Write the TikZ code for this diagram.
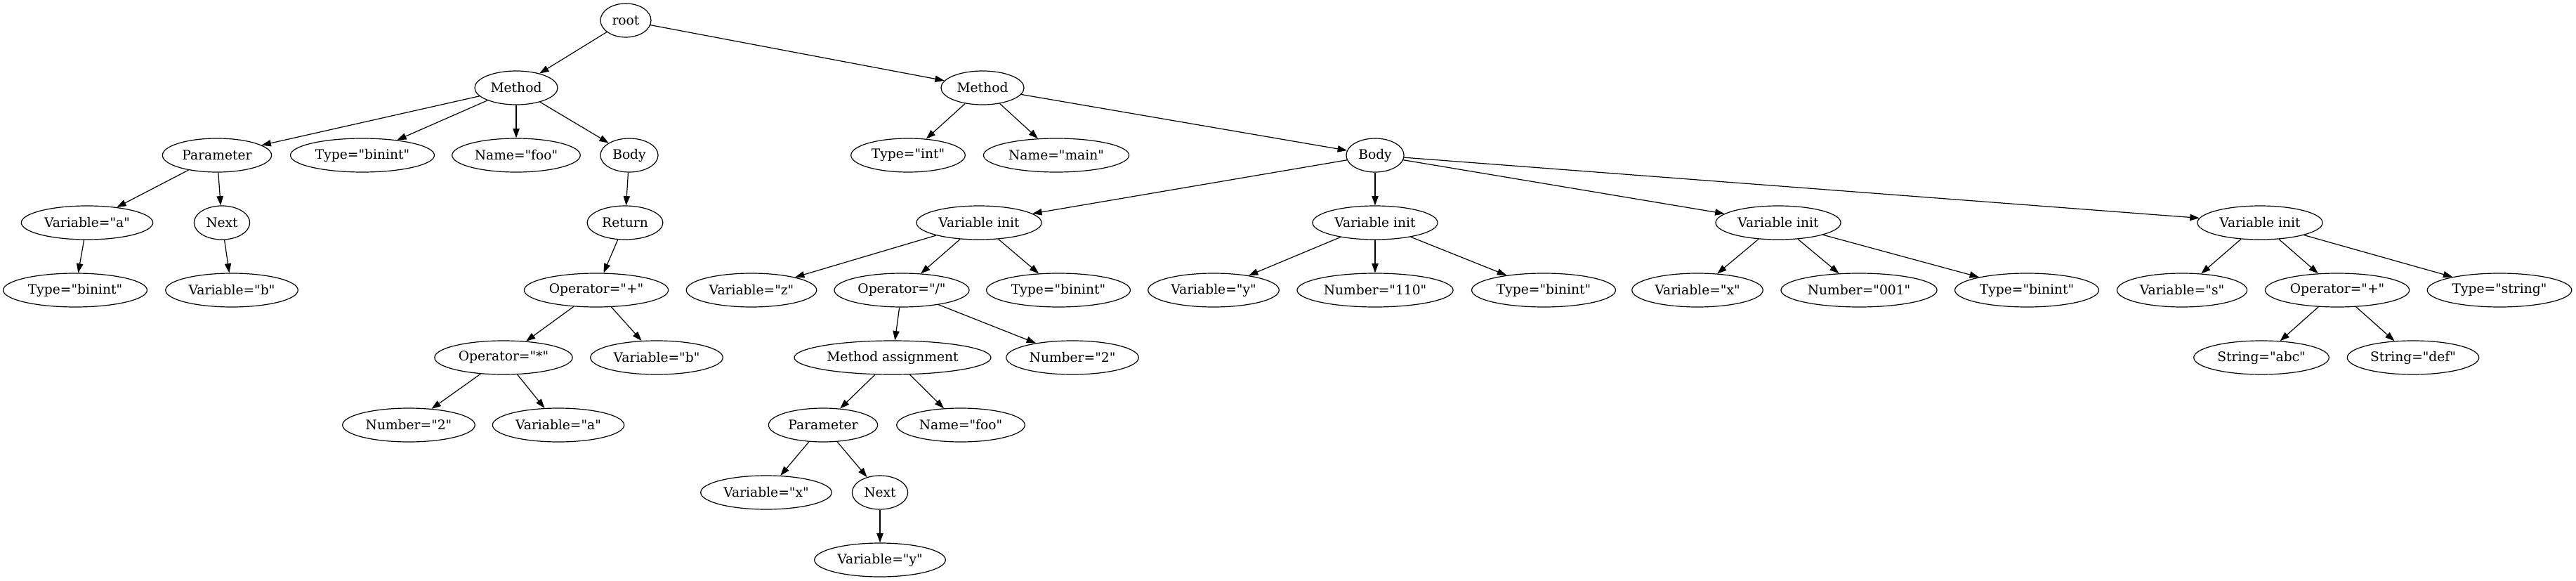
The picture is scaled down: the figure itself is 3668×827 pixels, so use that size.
\documentclass[tikz,border=0pt]{standalone}
\usepackage{fontspec}
\setmainfont{DejaVu Serif}[Ligatures=TeXOff]
\usepackage{tikz}
\usetikzlibrary{shapes.geometric,arrows.meta}
\tikzstyle{ast} = [draw=black, ellipse, line width=0.9pt, minimum width=54pt, minimum height=36pt, inner xsep=4pt, inner ysep=2pt, font={\fontsize{14}{16}\selectfont}]
\tikzstyle{edge} = [->, line width=0.9pt]

\begin{document}
\begin{tikzpicture}[x=0.75pt,y=-0.75pt,>={Triangle[length=10pt,width=7pt]}]
  \useasboundingbox (0,0) rectangle (3668,827);
  \node[ast](root) at (891,29){root};
  \node[ast](m1) at (735,125){Method};
  \node[ast](m2) at (1399,125){Method};
  \node[ast](par1) at (309,221){Parameter};
  \node[ast](type1) at (516,221){Type="binint"};
  \node[ast](name1) at (735,221){Name="foo"};
  \node[ast](body1) at (896,221){Body};
  \node[ast](type2) at (1293,221){Type="int"};
  \node[ast](name2) at (1504,221){Name="main"};
  \node[ast](body2) at (1958,221){Body};
  \node[ast](var1) at (124,317){Variable="a"};
  \node[ast](next1) at (316,317){Next};
  \node[ast](ret) at (890,317){Return};
  \node[ast](vi1) at (1394,317){Variable init};
  \node[ast](vi2) at (1958,317){Variable init};
  \node[ast](vi3) at (2532,317){Variable init};
  \node[ast](vi4) at (3218,317){Variable init};
  \node[ast](type3) at (107,413){Type="binint"};
  \node[ast](var2) at (330,413){Variable="b"};
  \node[ast](op1) at (849,413){Operator="+"};
  \node[ast](var3) at (1070,413){Variable="z"};
  \node[ast](op2) at (1284,413){Operator="/"};
  \node[ast](type4) at (1507,413){Type="binint"};
  \node[ast](var4) at (1728,413){Variable="y"};
  \node[ast](num1) at (1958,413){Number="110"};
  \node[ast](type5) at (2198,413){Type="binint"};
  \node[ast](var5) at (2417,413){Variable="x"};
  \node[ast](num2) at (2647,413){Number="001"};
  \node[ast](type6) at (2886,413){Type="binint"};
  \node[ast](var6) at (3107,413){Variable="s"};
  \node[ast](op3) at (3328,413){Operator="+"};
  \node[ast](type7) at (3559,413){Type="string"};
  \node[ast](op4) at (717,509){Operator="*"};
  \node[ast](var7) at (935,509){Variable="b"};
  \node[ast](ma) at (1271,509){Method assignment};
  \node[ast](num3) at (1527,509){Number="2"};
  \node[ast](str1) at (3220,509){String="abc"};
  \node[ast](str2) at (3436,509){String="def"};
  \node[ast](num4) at (582,605){Number="2"};
  \node[ast](var8) at (795,605){Variable="a"};
  \node[ast](par2) at (1172,605){Parameter};
  \node[ast](name3) at (1368,605){Name="foo"};
  \node[ast](var9) at (1091,701){Variable="x"};
  \node[ast](next2) at (1253,701){Next};
  \node[ast](var10) at (1253,797){Variable="y"};
  \draw[edge](root)--(m1);
  \draw[edge](root)--(m2);
  \draw[edge](m1)--(par1);
  \draw[edge](m1)--(type1);
  \draw[edge](m1)--(name1);
  \draw[edge](m1)--(body1);
  \draw[edge](m2)--(type2);
  \draw[edge](m2)--(name2);
  \draw[edge](m2)--(body2);
  \draw[edge](par1)--(var1);
  \draw[edge](par1)--(next1);
  \draw[edge](var1)--(type3);
  \draw[edge](next1)--(var2);
  \draw[edge](body1)--(ret);
  \draw[edge](ret)--(op1);
  \draw[edge](op1)--(op4);
  \draw[edge](op1)--(var7);
  \draw[edge](op4)--(num4);
  \draw[edge](op4)--(var8);
  \draw[edge](body2)--(vi1);
  \draw[edge](body2)--(vi2);
  \draw[edge](body2)--(vi3);
  \draw[edge](body2)--(vi4);
  \draw[edge](vi1)--(var3);
  \draw[edge](vi1)--(op2);
  \draw[edge](vi1)--(type4);
  \draw[edge](op2)--(ma);
  \draw[edge](op2)--(num3);
  \draw[edge](ma)--(par2);
  \draw[edge](ma)--(name3);
  \draw[edge](par2)--(var9);
  \draw[edge](par2)--(next2);
  \draw[edge](next2)--(var10);
  \draw[edge](vi2)--(var4);
  \draw[edge](vi2)--(num1);
  \draw[edge](vi2)--(type5);
  \draw[edge](vi3)--(var5);
  \draw[edge](vi3)--(num2);
  \draw[edge](vi3)--(type6);
  \draw[edge](vi4)--(var6);
  \draw[edge](vi4)--(op3);
  \draw[edge](vi4)--(type7);
  \draw[edge](op3)--(str1);
  \draw[edge](op3)--(str2);
\end{tikzpicture}
\end{document}
